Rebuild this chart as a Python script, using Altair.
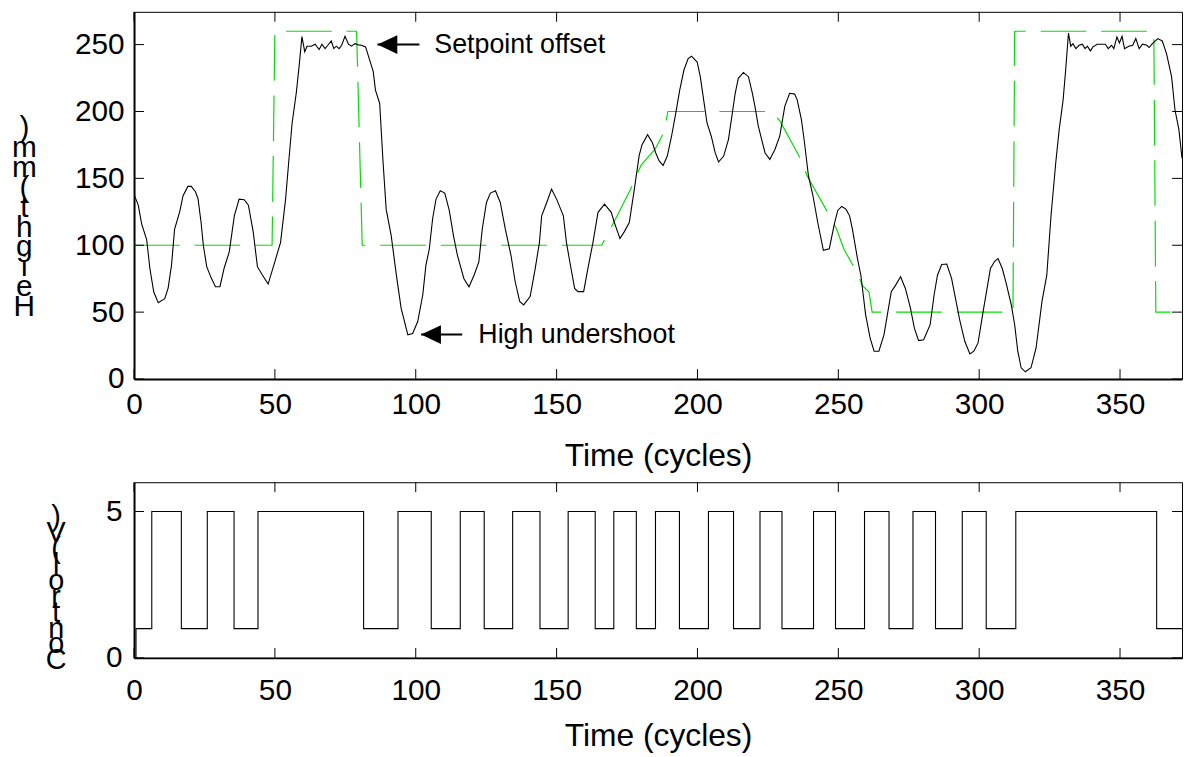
import altair as alt
import pandas as pd

# ---------------- data ----------------
height_t = [0.0, 1.5, 2.7, 4.5, 5.6, 7.0, 8.6, 10.9, 12.1, 13.3, 14.4, 16.2, 17.4, 19.1, 20.3, 21.8, 22.7,
            23.8, 24.6, 25.8, 27.3, 28.9, 30.5, 32.0, 33.8, 35.6, 37.3, 39.1, 40.6, 42.3, 43.8, 45.5,
            47.6, 49.6, 52.0, 53.8, 54.9, 56.1, 57.6, 58.7, 59.6, 60.6, 61.4, 62.9, 64.3, 65.7, 66.7,
            67.8, 68.8, 70.0, 70.9, 71.8, 72.8, 73.7, 74.9, 76.1, 77.2, 78.4, 79.6, 80.7, 82.2, 83.7,
            84.9, 85.7, 87.2, 88.4, 89.5, 91.3, 93.1, 94.8, 97.2, 98.9, 100.7, 102.5, 103.6, 104.8,
            106.0, 107.2, 108.7, 110.3, 111.9, 113.4, 114.8, 117.1, 118.9, 120.7, 122.4, 123.6, 125.1,
            126.5, 128.3, 130.0, 131.8, 133.8, 135.3, 136.9, 138.3, 140.6, 142.4, 143.9, 144.7, 146.5,
            148.2, 150.0, 152.4, 153.5, 154.7, 156.4, 157.6, 159.6, 161.1, 162.9, 164.7, 167.0, 169.4,
            170.5, 172.5, 174.0, 175.8, 177.6, 179.3, 180.3, 182.3, 184.0, 185.2, 186.4, 187.8, 189.3,
            190.8, 192.3, 193.7, 195.2, 196.7, 197.9, 199.9, 201.0, 202.2, 203.4, 204.9, 206.3, 207.5,
            209.3, 211.0, 212.2, 213.4, 214.5, 216.3, 218.1, 219.5, 220.4, 221.6, 222.8, 224.0, 225.7,
            227.5, 229.2, 231.0, 232.7, 234.5, 235.4, 236.9, 238.0, 239.4, 241.0, 242.7, 244.7, 246.8,
            248.6, 249.8, 251.2, 252.7, 254.0, 255.0, 256.8, 258.0, 259.7, 261.3, 262.7, 264.4, 266.2,
            267.4, 268.8, 270.3, 272.1, 273.8, 275.6, 277.0, 278.5, 280.3, 282.6, 284.0, 285.2, 286.7,
            288.5, 290.2, 291.8, 293.2, 294.9, 296.7, 298.1, 299.6, 301.4, 302.8, 304.0, 305.5, 306.7,
            308.2, 309.6, 311.4, 312.6, 313.7, 314.9, 316.4, 318.4, 320.2, 322.3, 324.0, 325.5, 327.2,
            328.4, 329.8, 330.7, 331.7, 332.5, 333.3, 334.3, 335.5, 336.6, 337.6, 338.4, 339.5, 340.4,
            341.9, 344.8, 345.8, 347.0, 347.8, 348.9, 349.8, 350.7, 351.6, 353.1, 354.5, 355.6, 356.8,
            358.0, 359.5, 360.3, 361.5, 363.4, 365.0, 366.5, 368.3, 369.5, 370.9, 372.0]
height_v = [138, 130, 116, 104, 83, 65, 57, 60, 68, 85, 112, 125, 137, 144, 144, 140, 135,
            117, 100, 84, 76, 69, 69, 83, 95, 122, 134.5, 134, 130, 110, 84, 78,
            71, 85, 102, 134.5, 162, 191, 214, 236, 256, 244.6, 248.8, 248.8, 250.3, 246.3, 250.3,
            247, 249.5, 252.7, 247, 248.8, 247, 249.5, 256.2, 250.3, 248.8, 250.7, 249.8, 249.5, 248.3, 238,
            230, 216, 206, 162, 127, 107, 78, 53, 33, 34, 43, 63, 85, 97,
            120, 134.5, 140.7, 139, 126, 107, 92.5, 75, 69, 77.6, 87.5, 112, 132,
            139, 140.7, 132, 112, 92.5, 72.7, 58, 55.4, 61.6, 82.6, 102, 122, 132,
            142, 134.5, 122, 102, 87.5, 67.7, 65.3, 65.3, 82.6, 102, 124.6, 130.8, 124.6,
            117, 105, 110, 117, 142, 167, 175, 182.7, 176.6, 169, 163, 159.7, 166.7,
            181.5, 198.8, 216, 231, 239.6, 241.3, 237, 226, 208.7, 191.4, 181.5, 169, 162.2,
            166.7, 179, 196.4, 213.6, 224.8, 229.2, 226, 213.6, 203.8, 189, 179, 169, 164.2,
            171.6, 181.5, 203.8, 213.6, 213, 208.7, 194, 176.6, 151.8, 137, 117, 96.2, 97.4,
            116, 126, 129, 127, 122, 112, 90, 77.6, 48, 30.6, 20.8, 20.8, 33,
            48, 65.3, 70, 76.4, 67.7, 53, 38, 28.7, 29.4, 40.6, 62.8, 77.6, 85.6,
            86, 75.2, 58, 43, 28.2, 18.8, 20.8, 27, 50.4, 67.7, 82.6, 88, 90,
            82.6, 71.5, 55.4, 40.6, 20.8, 8.4, 5.4, 8.4, 23.2, 58, 77.6, 122, 162,
            186.4, 208.7, 231, 258.6, 248.8, 250.7, 247, 249.5, 250.3, 247, 248.8, 245.3, 248.3,
            250.3, 250.3, 247, 249.5, 247, 255.7, 251.2, 256.2, 247, 248.8, 249.5, 254.5, 247,
            250.3, 249.5, 247.8, 250.7, 254.5, 252.7, 243.3, 226, 201.3, 186.4, 165]

setpoint_t = [0, 49, 50, 79, 81, 166, 171, 177, 180, 185, 188, 189.5, 226, 229.3, 237, 239, 246.8,
              249.4, 252, 256.8, 258.5, 260.9, 262, 312, 312.6, 362, 362.7, 372]
setpoint_v = [100, 100, 260, 260, 100, 100, 120, 145, 160, 172, 184, 200, 200, 193, 163, 151.5, 122.6,
              112, 97, 79, 70, 65, 50, 50, 260, 260, 50, 50]

control_t = [0, 0.7, 6.3, 16.8, 26, 35.5, 44, 81.5, 93.7, 105.5, 115.8, 124.3, 134.4, 144.1, 154.1,
             163.7, 170.3, 178.3, 185.1, 193.6, 203.9, 212.8, 222.2, 230, 241.2, 249, 259.3, 268,
             276.5, 284.5, 294, 302.5, 313, 363, 372]
control_v = [0, 1, 5, 1, 5, 1, 5, 1, 5, 1, 5, 1, 5, 1, 5,
             1, 5, 1, 5, 1, 5, 1, 5, 1, 5, 1, 5, 1,
             5, 1, 5, 1, 5, 1, 1]

x_ticks = [0, 50, 100, 150, 200, 250, 300, 350]
height_ticks = [0, 50, 100, 150, 200, 250]
control_ticks = [0, 5]

ann_text = ["Setpoint offset", "High undershoot"]
ann_x = [106.6, 122.2]
ann_y = [250.0, 33.2]
arrow_tip_x = [86.4, 101.9]
arrow_tail_x = [101.3, 116.5]
arrow_y = [250.0, 33.2]

height_title = [")", "m", "m", "(", "t", "h", "g", "i", "e", "H"]
control_title = [")", "V", "(", "l", "o", "r", "t", "n", "o", "C"]

# ---------------- layout / style ----------------
FONT = "Liberation Sans"
GREEN = "#00e000"
W = 1056
H1 = 370
H2 = 177
TICK = 10

xs = alt.Scale(domain=[0, 372], nice=False, zero=False)
hs = alt.Scale(domain=[0, 274.5], nice=False, zero=False)
cs = alt.Scale(domain=[0, 6], nice=False, zero=False)

df_h = pd.DataFrame({"t": height_t, "v": height_v})
df_s = pd.DataFrame({"t": setpoint_t, "v": setpoint_v})
df_c = pd.DataFrame({"t": control_t, "v": control_v})
df_xt = pd.DataFrame({"t": x_ticks})
df_ht = pd.DataFrame({"v": height_ticks})
df_ct = pd.DataFrame({"v": control_ticks})
df_ann = pd.DataFrame({"t": ann_x, "v": ann_y, "label": ann_text})
df_arr = pd.DataFrame({"t": arrow_tip_x, "t2": arrow_tail_x, "v": arrow_y})


def x_axis(label_pad, title_pad):
    return alt.Axis(values=x_ticks, title="Time (cycles)", ticks=False, tickSize=0, grid=False,
                    domain=True, domainColor="black", domainWidth=2,
                    labelFont=FONT, labelFontSize=30, labelColor="black", labelPadding=label_pad,
                    labelFlush=False, labelOverlap=False,
                    titleFont=FONT, titleFontSize=32, titleFontWeight="normal", titleColor="black",
                    titlePadding=title_pad)


def y_axis(values, lines, tx, ty, lh, label_pad, tfs):
    return alt.Axis(values=values, title=lines, titleAngle=0, titleAlign="center", titleBaseline="top",
                    titleX=tx, titleY=ty, titleLineHeight=lh,
                    titleFont=FONT, titleFontSize=tfs, titleFontWeight="normal", titleColor="black",
                    ticks=False, tickSize=0, grid=False, domain=True, domainColor="black", domainWidth=2,
                    labelFont=FONT, labelFontSize=30, labelColor="black", labelPadding=label_pad,
                    labelFlush=False, labelOverlap=False)


def tick_layers(xax, yax, yscale, yticks_df, height):
    xb = alt.Chart(df_xt).mark_rule(color="black", strokeWidth=1).encode(
        x=alt.X("t:Q", scale=xs, axis=xax), y=alt.value(height), y2=alt.value(height - TICK))
    xtop = alt.Chart(df_xt).mark_rule(color="black", strokeWidth=1).encode(
        x=alt.X("t:Q", scale=xs, axis=xax), y=alt.value(0), y2=alt.value(TICK))
    yl = alt.Chart(yticks_df).mark_rule(color="black", strokeWidth=1).encode(
        y=alt.Y("v:Q", scale=yscale, axis=yax), x=alt.value(0), x2=alt.value(TICK))
    yr = alt.Chart(yticks_df).mark_rule(color="black", strokeWidth=1).encode(
        y=alt.Y("v:Q", scale=yscale, axis=yax), x=alt.value(W - TICK), x2=alt.value(W))
    return [xb, xtop, yl, yr]


# ---------------- top panel ----------------
XA1 = x_axis(11, 21)
YA1 = y_axis(height_ticks, height_title, -111, 102, 20, 10, 30)
X1 = alt.X("t:Q", scale=xs, axis=XA1)
Y1 = alt.Y("v:Q", scale=hs, axis=YA1)

setp = alt.Chart(df_s).mark_line(color=GREEN, strokeWidth=1.2, strokeDash=[46, 15], clip=True).encode(
    x=X1, y=Y1)
hline = alt.Chart(df_h).mark_line(color="black", strokeWidth=1.1, clip=True).encode(x=X1, y=Y1)
ann = alt.Chart(df_ann).mark_text(align="left", baseline="middle", font=FONT, fontSize=27,
                                  color="black").encode(x=X1, y=Y1, text="label:N")
shaft = alt.Chart(df_arr).mark_rule(color="black", strokeWidth=2).encode(x=X1, x2="t2:Q", y=Y1)
head = alt.Chart(df_arr).mark_point(shape="M-1,0L1,-0.95L1,0.95Z", size=400, filled=True,
                                    color="black", opacity=1, strokeWidth=0, xOffset=10).encode(x=X1, y=Y1)

top = alt.layer(setp, hline, *tick_layers(XA1, YA1, hs, df_ht, H1), shaft, head, ann).properties(
    width=W, height=H1)

# ---------------- bottom panel ----------------
XA2 = x_axis(18, 15)
YA2 = y_axis(control_ticks, control_title, -79, 21, 16, 12, 29)
X2 = alt.X("t:Q", scale=xs, axis=XA2)
Y2 = alt.Y("v:Q", scale=cs, axis=YA2)

cline = alt.Chart(df_c).mark_line(color="black", strokeWidth=1.1, interpolate="step-after", clip=True).encode(
    x=X2, y=Y2)
bottom = alt.layer(cline, *tick_layers(XA2, YA2, cs, df_ct, H2)).properties(width=W, height=H2)

chart = alt.vconcat(top, bottom, spacing=9).properties(
    padding={"left": 3, "top": 0, "right": 0, "bottom": 0},
    background="white",
).configure_view(stroke="black", strokeWidth=1)

chart.save("out.html", embed_options={"renderer": "svg", "actions": False})
